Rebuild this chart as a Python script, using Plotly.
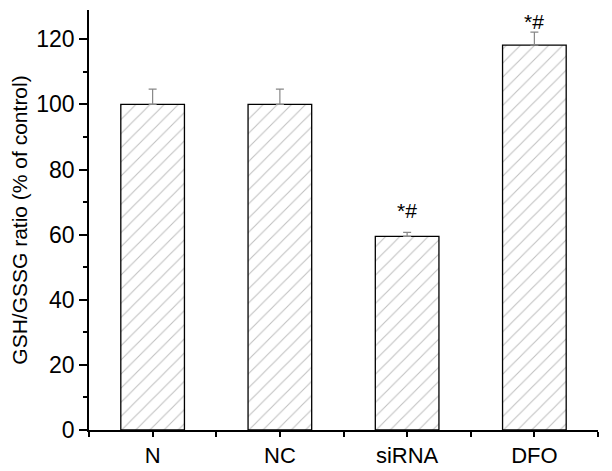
import plotly.graph_objects as go

categories = ["N", "NC", "siRNA", "DFO"]
values = [100.0, 100.0, 59.5, 118.2]
errors = [4.7, 4.7, 1.2, 4.0]
marks = ["", "", "*#", "*#"]
y_ticks = [0, 20, 40, 60, 80, 100, 120]

xpos = list(range(len(categories)))
mark_shift = [0, 0, 9, -2]  # pixel offsets for the significance labels

fig = go.Figure()
fig.add_trace(go.Bar(
    x=xpos, y=values, width=0.5,
    marker=dict(color="white", line=dict(color="black", width=1.3),
                pattern=dict(shape="/", fgcolor="#808080", bgcolor="white",
                             size=10, solidity=0.1)),
    error_y=dict(type="data", array=errors, symmetric=False, arrayminus=[0]*4,
                 color="#888888", thickness=1.2, width=4),
))

for x, v, e, m, s in zip(xpos, values, errors, marks, mark_shift):
    if m:
        fig.add_annotation(x=x, y=v + e, text=m, showarrow=False,
                           yanchor="bottom", yshift=s, borderpad=0,
                           font=dict(size=21, color="black", family="Liberation Sans, Arial"))

# page body has an 8px margin, so the figure is sized/offset to compensate
fig.update_layout(
    width=604, height=463,
    margin=dict(l=81, r=14, t=2, b=41),
    plot_bgcolor="white", paper_bgcolor="white",
    showlegend=False,
    font=dict(family="Liberation Sans, Arial", color="black"),
    xaxis=dict(range=[-0.5, 3.5], tickvals=xpos, ticktext=categories,
               automargin=False,
               showline=True, linecolor="black", linewidth=1.5,
               ticks="outside", ticklen=5, tickwidth=1.5, tickcolor="black",
               tickfont=dict(size=22), showgrid=False, zeroline=False,
               minor=dict(tickvals=[-0.5, 0.5, 1.5, 2.5, 3.5], ticks="outside",
                          ticklen=5, tickwidth=1.5, tickcolor="black")),
    yaxis=dict(range=[0, 129], tickvals=y_ticks, automargin=False,
               showline=True, linecolor="black", linewidth=1.5,
               ticks="outside", ticklen=8, tickwidth=1.5, tickcolor="black",
               tickfont=dict(size=23), showgrid=False, zeroline=False,
               minor=dict(dtick=10, ticks="outside", ticklen=4, tickwidth=1.5,
                          tickcolor="black"),
               title=dict(text="GSH/GSSG ratio (% of control)", font=dict(size=21),
                          standoff=6)),
)

fig.write_html("out.html")
